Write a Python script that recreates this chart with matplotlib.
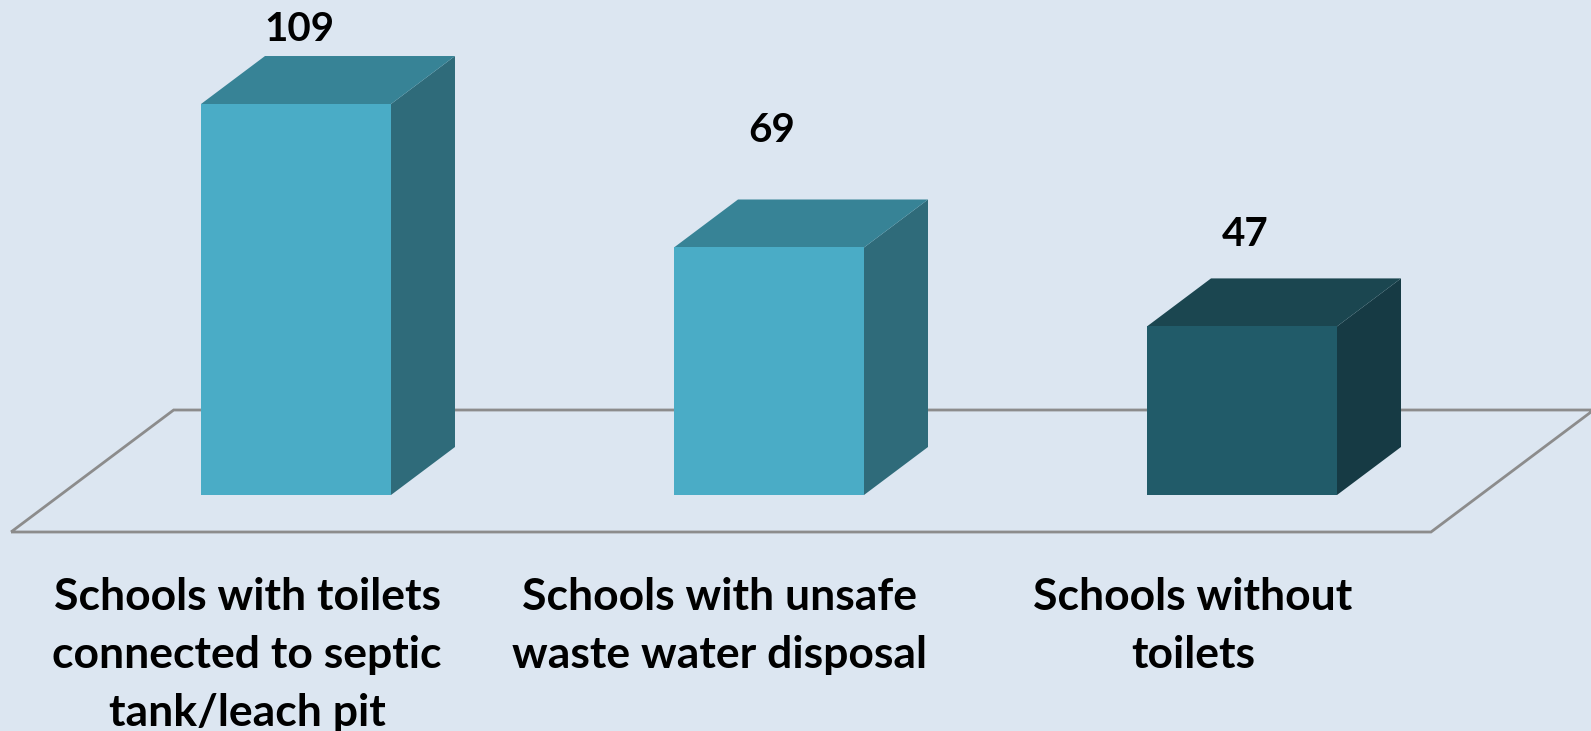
import numpy as np
import matplotlib.pyplot as plt
from matplotlib.patches import Polygon

categories = ['Schools with toilets\nconnected to septic\ntank/leach pit',
              'Schools with unsafe\nwaste water disposal',
              'Schools without\ntoilets']
values = [109, 69, 47]
label_lift = [75, 117, 92]   # value label height above bar top, pixels

front_colors = ['#4AACC6', '#4AACC6', '#215B69']
top_colors = ['#378396', '#378396', '#1B4650']
side_colors = ['#2F6B7A', '#2F6B7A', '#163A44']

plt.rcParams['font.family'] = ['Lato', 'DejaVu Sans']

W, H = 1591, 731
fig = plt.figure(figsize=(W / 100, H / 100), dpi=100)
fig.patch.set_facecolor('#DCE6F1')
ax = fig.add_axes([0, 0, 1, 1])
ax.set_facecolor('#DCE6F1')
ax.axis('off')

# pixel scale: 473 px per category, 3.587 px per unit of value
px_x = 473.0
px_y = 3.587
ax.set_xlim(-296 / px_x, (W - 296) / px_x)
ax.set_ylim(-236 / px_y, (H - 236) / px_y)

bw = 190 / px_x           # bar width
ddx = 64 / px_x           # depth offset, x
ddy = 48 / px_y           # depth offset, y

# floor (parallelogram)
f_front = -37 / 48        # in bar-depth units, in front of bars
f_back = 85 / 48
x0 = -296 / px_x + 11 / px_x - f_front * ddx
x1 = x0 + 1420 / px_x
floor = [(x0 + f_front * ddx, f_front * ddy), (x1 + f_front * ddx, f_front * ddy),
         (x1 + f_back * ddx, f_back * ddy), (x0 + f_back * ddx, f_back * ddy)]
ax.add_patch(Polygon(floor, closed=True, facecolor='none', edgecolor='#8C8C8C',
                     lw=2, zorder=1))

for i, v in enumerate(values):
    l, r = i - bw / 2, i + bw / 2
    front = [(l, 0), (r, 0), (r, v), (l, v)]
    top = [(l, v), (r, v), (r + ddx, v + ddy), (l + ddx, v + ddy)]
    side = [(r, 0), (r + ddx, ddy), (r + ddx, v + ddy), (r, v)]
    ax.add_patch(Polygon(side, closed=True, facecolor=side_colors[i], edgecolor='none', zorder=2))
    ax.add_patch(Polygon(top, closed=True, facecolor=top_colors[i], edgecolor='none', zorder=2))
    ax.add_patch(Polygon(front, closed=True, facecolor=front_colors[i], edgecolor='none', zorder=3))
    ax.annotate(str(v), (i, v), xytext=(3, label_lift[i]), textcoords='offset pixels',
                ha='center', va='center', fontsize=29, fontweight='bold', color='black')
    ax.annotate(categories[i], (i, 0), xytext=(-49, -82), textcoords='offset pixels',
                ha='center', va='top', fontsize=32, fontweight='bold', color='black',
                linespacing=1.55)

fig.savefig('out.png', dpi=100, facecolor=fig.get_facecolor())
